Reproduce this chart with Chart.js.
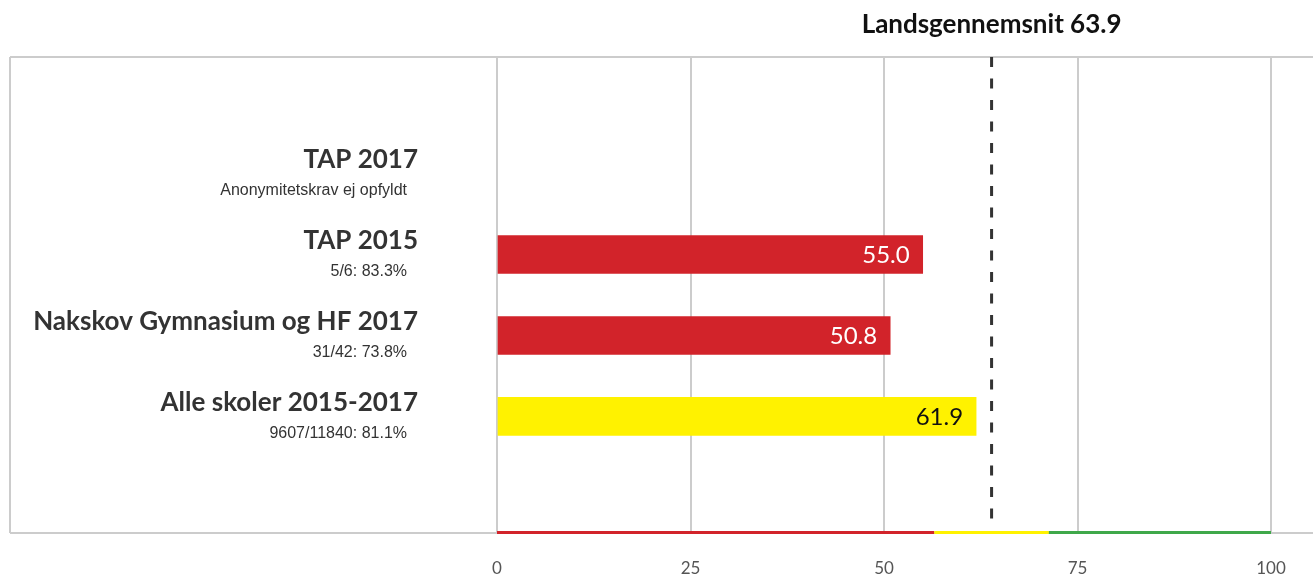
<!DOCTYPE html>
<html>
<head>
<meta charset="utf-8">
<script src="https://cdn.jsdelivr.net/npm/chart.js@4/dist/chart.umd.min.js"></script>
<style>
  html, body { margin: 0; padding: 0; background: #fff; }
  canvas { display: block; }
</style>
</head>
<body>
<canvas id="chart" width="1313" height="578"></canvas>
<script>
// data
const categories = ['TAP 2017', 'TAP 2015', 'Nakskov Gymnasium og HF 2017', 'Alle skoler 2015-2017'];
const subLabels = ['Anonymitetskrav ej opfyldt', '5/6: 83.3%', '31/42: 73.8%', '9607/11840: 81.1%'];
const values = [null, 55.0, 50.8, 61.9];
const nationalAverage = 63.9;
const thresholds = [56.5, 71.3]; // red | yellow | green
const xTicks = [0, 25, 50, 75, 100];

const RED = '#d2232a', YELLOW = '#fff200', GREEN = '#3fa84a';
const GRID = '#cccccc';

function colorFor(v) {
  if (v < thresholds[0]) return RED;
  if (v < thresholds[1]) return YELLOW;
  return GREEN;
}

const points = [];
values.forEach((v, i) => { if (v !== null) points.push({ x: v, y: i }); });

const decorations = {
  id: 'decorations',
  beforeDraw(chart) {
    const ctx = chart.ctx;
    ctx.save();
    ctx.fillStyle = '#fff';
    ctx.fillRect(0, 0, chart.width, chart.height);
    ctx.restore();
  },
  afterDatasetsDraw(chart) {
    const ctx = chart.ctx;
    const x = chart.scales.x, y = chart.scales.y;
    const area = chart.chartArea;
    ctx.save();

    // frame
    ctx.strokeStyle = GRID;
    ctx.lineWidth = 2;
    ctx.beginPath();
    ctx.moveTo(10, area.top);
    ctx.lineTo(chart.width, area.top);
    ctx.moveTo(10, area.top);
    ctx.lineTo(10, area.bottom);
    ctx.moveTo(10, area.bottom);
    ctx.lineTo(chart.width, area.bottom);
    ctx.stroke();

    // colour band along the bottom
    const bands = [[0, thresholds[0], RED], [thresholds[0], thresholds[1], YELLOW], [thresholds[1], 100, GREEN]];
    bands.forEach(b => {
      const x0 = x.getPixelForValue(b[0]), x1 = x.getPixelForValue(b[1]);
      ctx.fillStyle = b[2];
      ctx.fillRect(x0, area.bottom - 2, x1 - x0, 3);
    });

    // national average
    const ax = x.getPixelForValue(nationalAverage);
    ctx.strokeStyle = '#333';
    ctx.lineWidth = 3;
    ctx.setLineDash([10, 11.5]);
    ctx.beginPath();
    ctx.moveTo(ax, area.top);
    ctx.lineTo(ax, area.bottom - 12);
    ctx.stroke();
    ctx.setLineDash([]);

    ctx.fillStyle = '#111';
    ctx.font = 'bold 26px Lato';
    ctx.textAlign = 'center';
    ctx.textBaseline = 'middle';
    ctx.fillText('Landsgennemsnit ' + nationalAverage.toFixed(1), ax, 25);

    // row labels
    categories.forEach((c, i) => {
      const cy = y.getPixelForValue(i);
      ctx.textAlign = 'right';
      ctx.fillStyle = '#333';
      ctx.font = 'bold 26px Lato';
      ctx.fillText(c, 418, cy - 14);
      ctx.font = '16px "Liberation Sans"';
      ctx.fillText(subLabels[i], 407, cy + 17);
    });

    // value labels inside bars
    ctx.font = '24px Lato';
    ctx.textAlign = 'right';
    values.forEach((v, i) => {
      if (v === null) return;
      ctx.fillStyle = colorFor(v) === YELLOW ? '#111' : '#fff';
      ctx.fillText(v.toFixed(1), x.getPixelForValue(v) - 13, y.getPixelForValue(i) + 1);
    });

    ctx.restore();
  }
};

new Chart(document.getElementById('chart'), {
  type: 'bar',
  data: {
    datasets: [{
      data: points,
      backgroundColor: points.map(p => colorFor(p.x)),
      barThickness: 38
    }]
  },
  options: {
    indexAxis: 'y',
    responsive: false,
    animation: false,
    layout: { padding: { left: 497, top: 57, right: 42, bottom: 1 } },
    scales: {
      x: {
        min: 0,
        max: 100,
        afterBuildTicks: axis => { axis.ticks = xTicks.map(v => ({ value: v })); },
        afterFit: axis => { axis.height = 44; },
        ticks: { color: '#555', font: { family: 'Lato', size: 17 }, padding: 25 },
        grid: { color: GRID, lineWidth: 2, drawTicks: false },
        border: { display: false }
      },
      y: {
        type: 'linear',
        reverse: true,
        offset: false,
        min: -1.44,
        max: 4.44,
        display: false
      }
    },
    plugins: {
      legend: { display: false },
      tooltip: { enabled: false }
    }
  },
  plugins: [decorations]
});
</script>
</body>
</html>
